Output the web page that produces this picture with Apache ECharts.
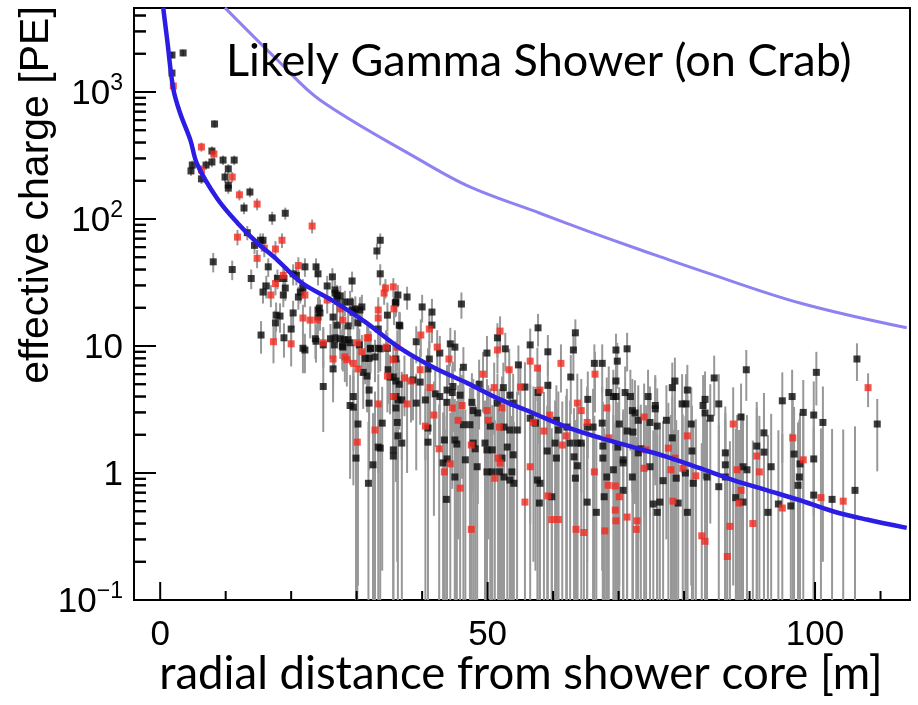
<!DOCTYPE html>
<html>
<head>
<meta charset="utf-8">
<title>Likely Gamma Shower (on Crab)</title>
<script src="https://cdn.jsdelivr.net/npm/echarts@6/dist/echarts.min.js"></script>
<style>
  html, body { margin: 0; padding: 0; background: #ffffff; }
  #chart { width: 918px; height: 705px; }
</style>
</head>
<body>
<div id="chart"></div>
<script>
// Axis ranges (radial distance in m, effective charge in PE)
const xRange = [-4, 114.5];
const yRange = [0.1, 4585];

// Tick positions
const xMajorTicks = [0, 50, 100];
const xMinorTicks = [10, 20, 30, 40, 60, 70, 80, 90, 110];
const yDecadeTicks = [0.1, 1, 10, 100, 1000];
const yMinorTicks = [0.2, 0.3, 0.4, 0.5, 0.6, 0.7, 0.8, 0.9,
  2, 3, 4, 5, 6, 7, 8, 9, 20, 30, 40, 50, 60, 70, 80, 90,
  200, 300, 400, 500, 600, 700, 800, 900, 2000, 3000, 4000];

// Tank hits: [distance, effective charge, charge error]
const blackHits = [
  [3.5,2030,120],[1.8,1955,110],[1.8,1410,90],[8.3,560,40],[7.9,343,30],[9.6,291,25],[11.3,291,25],
  [7.9,281,25],[7.0,266,22],[4.9,266,22],[4.7,239,20],[10.4,248,22],[9.9,214,20],[6.3,207,18],
  [10.4,185,18],[10.4,175,17],[13.7,163,15],[12.8,122,13],[17.1,102,12],[19.1,111,12],[13.3,78,10],
  [15.3,68,9],[15.7,68,9],[14.4,62,9],[33.6,68,9],[33.1,56,8],[8.1,46,8],[11.0,40,7],[16.5,42,7],
  [22.1,42,7],[23.8,42,7],[33.6,37,7],[13.9,34,6],[17.9,34,6],[18.9,34,6],[20.3,37,7],[20.8,36,6],
  [24.1,37,7],[26.3,35,6],[29.3,32.5,6],[25.5,29.7,6],[19.1,28.6,6],[16.2,29.7,6],[15.7,26.6,5],
  [18.8,25.2,5],[21.1,24.3,5],[21.8,28.6,5],[26.7,26.1,5],[27.5,24.8,5],[27.0,23.4,5],[28.2,22.2,5],
  [29.0,22.2,5],[36.3,25.2,5],[37.7,24.3,5],[36.0,22.2,5],[30.8,20.3,5],[40.0,20.3,5],[29.3,19.2,5],
  [24.3,19.9,5],[24.4,18.2,5],[17.7,17.5,4.5],[20.3,18.2,4.5],[24.1,16.9,4.5],[26.4,16.9,4.5],
  [18.3,17.2,4.5],[34.7,17.5,4.5],[33.3,13.6,4],[30.2,15.2,4],[28.7,14.4,4],[27.0,14.6,4],[17.6,15.2,4],
  [20.0,13.6,4],[36.5,14.6,4],[39.1,10.8,3.5],[15.4,12.2,3.5],[18.9,11.6,3.5],[21.8,9.6,3.5],
  [23.7,11.4,3.5],[24.9,10.2,3.5],[26.0,11.4,3.5],[26.6,10.2,3.5],[27.5,11.4,3.5],[27.9,9.8,3.5],
  [29.0,10.6,3.5],[32.1,9.6,3.5],[33.3,9.6,3.5],
  [45.0,9.8,3.5],[44.3,10.4,3.5],[42.7,8.8,3.2],[40.9,6.6,3],[41.1,7.9,3],[51.5,11.6,3.5],[57.7,13.9,4],
  [56.5,10.2,3.5],[59.2,9.0,3.2],[63.4,12.7,3.5],[63.1,9.3,3.2],[66.3,7.3,3],[62.7,5.7,2.8],[49.9,8.8,3.2],
  [52.7,9.5,3.2],[54.7,7.1,3],[46.3,6.8,3],[48.7,5.0,2.8],[52.4,4.7,2.7],[53.4,4.1,2.6],[55.7,4.75,2.7],
  [57.7,4.3,2.6],[59.2,4.9,2.7],[53.9,3.55,2.5],[45.8,4.1,2.6],[47.6,3.6,2.5],[47.8,3.1,2.4],
  [48.5,2.97,2.4],[51.5,3.55,2.5],[47.3,2.4,2.3],[46.3,2.4,2.3],[50.4,2.34,2.3],[53.4,2.18,2.2],
  [52.5,2.3,2.3],[54.5,2.18,2.2],[56.5,2.7,2.3],[57.3,2.47,2.3],[60.5,2.6,2.3],[60.8,2.18,2.2],
  [62.1,2.3,2.3],[65.2,2.3,2.3],[66.1,2.3,2.3],[65.3,3.8,2.5],[62.6,1.72,2.0],[63.7,1.72,2.0],
  [64.3,1.72,2.0],[60.3,1.72,2.0],[59.1,1.49,1.9],[60.5,1.31,1.9],[63.2,1.34,1.9],[63.7,1.14,1.8],
  [57.6,0.88,1.7],[58.0,0.83,1.7],[63.4,0.91,1.7],[59.8,0.65,1.6],[57.9,0.58,1.6],[65.2,0.59,1.6],
  [66.6,0.49,1.5],[49.6,1.72,2.0],[47.8,1.72,2.0],[48.1,1.55,1.9],[49.9,1.52,1.9],[50.7,1.52,1.9],
  [53.0,1.60,2.0],[53.9,1.39,1.9],[52.2,1.31,1.9],[48.4,1.12,1.8],[49.9,1.02,1.8],[50.7,1.02,1.8],
  [51.8,1.02,1.8],[52.5,0.93,1.7],[53.4,0.88,1.7],[54.0,0.83,1.7],[53.7,1.02,1.8],[45.3,1.69,2.0],
  [43.8,1.29,1.9],[43.2,1.2,1.8],[45.0,0.93,1.7],[43.7,0.62,1.6],[46.6,1.27,1.9],[43.4,1.82,2.0],
  [45.0,1.82,2.0],[40.9,2.26,2.2],[40.9,1.75,2.0],[39.1,3.55,2.5],[40.5,3.76,2.5],[42.0,4.2,2.6],
  [43.8,4.5,2.6],[44.6,4.3,2.6],[44.7,4.8,2.7],[36.3,3.76,2.5],[36.9,3.76,2.5],[36.0,4.0,2.5],
  [35.1,5.7,2.8],[35.6,5.7,2.8],[36.0,5.3,2.8],[36.5,5.0,2.8],[34.8,6.5,3],[33.6,9.5,3.2],[34.7,9.6,3.2],
  [36.0,7.9,3],[31.9,8.0,3],[32.8,8.2,3],[31.6,5.8,2.8],[33.9,2.47,2.3],[33.3,1.6,2.0],[33.6,1.57,2.0],
  [32.5,1.16,1.8],[35.6,1.52,1.9],[36.2,2.5,2.3],[36.3,1.96,2.1],[36.9,1.72,2.0],[35.6,1.36,1.9],
  [31.8,0.83,1.7],[29.9,1.31,1.9],[30.2,2.43,2.3],[29.5,4.0,2.5],[29.5,3.3,2.5],[29.0,3.4,2.5],
  [31.9,4.5,2.6],[31.9,3.55,2.5],[31.0,6.2,3],[26.4,6.6,3],[27.8,10.0,3.5],[31.3,8.0,3],[32.1,9.5,3.2],
  [30.4,10.2,3.5],[28.7,11.2,3.5],[28.1,11.2,3.5],[26.7,11.6,3.5],[23.8,10.9,3.5],[22.1,9.3,3.2],
  [24.9,4.8,2.7],[24.1,19.2,5],[29.5,18.5,5],[38.6,5.4,2.8],[39.7,5.2,2.8],[42.7,4.0,2.5],[43.8,3.6,2.5],
  [36.0,3.25,2.4],[46.0,21.4,5],[41.5,18.5,5],[35.9,21.8,5],[36.6,14.4,4],[41.5,14.6,4],[29.8,19.6,5],
  [30.5,19.2,5],[27.0,25.2,5],[26.7,27.6,5],[21.4,26.6,5],
  [71.3,9.5,3.2],[69.6,9.3,3.2],[69.8,7.6,3],[67.5,7.3,3],[69.6,5.3,2.8],[68.5,4.3,2.6],[69.2,4.0,2.5],
  [69.6,4.0,2.5],[71.0,4.3,2.6],[71.8,4.0,2.5],[72.1,3.1,2.4],[72.5,2.97,2.4],[73.0,2.6,2.3],
  [74.5,4.0,2.5],[74.8,2.5,2.3],[75.9,2.34,2.3],[75.6,3.4,2.5],[75.6,3.2,2.4],[77.3,2.6,2.3],
  [78.2,4.7,2.7],[78.6,5.3,2.8],[79.7,3.5,2.5],[80.3,3.5,2.5],[80.5,4.5,2.6],[81.1,2.43,2.3],
  [67.5,2.47,2.3],[70.1,2.43,2.3],[72.2,2.1,2.2],[71.3,2.14,2.2],[69.9,1.6,2.0],[67.6,1.63,2.0],
  [67.6,1.31,1.9],[70.7,1.27,1.9],[70.7,1.2,1.8],[73.0,1.44,1.9],[73.4,1.55,1.9],[74.8,1.12,1.8],
  [78.2,1.89,2.1],[78.8,0.91,1.7],[81.2,1.49,1.9],[80.2,1.0,1.8],[81.4,0.83,1.7],[69.2,1.06,1.8],
  [68.2,0.93,1.7],[70.7,0.73,1.6],[67.8,0.65,1.6],[72.1,0.93,1.7],[76.8,0.87,1.7],[75.3,0.57,1.6],
  [75.9,0.49,1.5],[76.3,0.59,1.6],[79.1,0.58,1.6],[80.5,0.49,1.5],[82.9,3.4,2.5],[83.2,2.97,2.4],
  [84.0,2.7,2.3],[84.6,5.6,2.8],[85.3,3.5,2.5],[83.2,3.8,2.5],[83.5,0.93,1.7],[85.3,0.78,1.6],
  [86.3,1.44,1.9],[86.3,1.16,1.8],[89.0,1.12,1.8],[89.6,1.06,1.8],[89.0,0.59,1.6],[86.3,0.93,1.7],
  [87.9,0.64,1.6],[88.7,2.76,2.3],[89.5,6.5,2.8],[92.2,2.07,2.2],[92.2,1.46,1.9],[91.1,1.63,2.0],
  [93.3,1.12,1.8],[92.8,0.49,1.5],[94.4,0.57,1.6],[96.3,0.55,1.5],[95.0,3.7,2.5],[96.5,4.0,2.5],
  [96.8,1.41,1.9],[97.7,1.18,1.8],[97.6,0.93,1.7],[97.4,0.80,1.7],[98.2,3.0,2.4],[100.2,6.2,2.8],
  [99.8,2.86,2.4],[101.2,2.5,2.3],[99.8,1.29,1.9],[99.8,0.67,1.6],[102.6,0.62,1.6],[106.1,0.73,1.6],
  [106.4,7.9,2.6],[109.5,2.43,1.4]
];

const redHits = [
  [2.0,1115,80],[6.3,369,30],[8.2,325,28],[6.3,243,22],[11.0,214,20],[12.1,155,15],[14.8,131,14],
  [23.2,88,11],[11.8,72,10],[15.9,59,9],[17.6,58,9],[18.6,68,9],[14.8,49,8],[21.1,43,7],[18.8,36,7],
  [17.6,31,6],[16.9,25.2,5],[22.1,25.2,5],[25.5,23.0,5],[34.2,26.1,5],[34.4,28.6,5],[35.6,29.2,5],
  [33.3,19.2,5],[35.7,19.6,5],[21.8,16.6,4.5],[22.9,16.0,4.5],[24.0,16.0,4.5],[33.3,16.6,4.5],
  [27.9,16.0,4.5],[41.1,13.6,4],[39.8,12.2,4],[17.3,10.8,3.5],[20.0,10.4,3.5],[24.9,10.6,3.5],
  [31.6,11.6,3.5],[30.1,10.6,3.5],[34.5,9.8,3.5],[36.2,9.8,3.5],
  [42.3,9.8,3.5],[44.1,7.9,3],[39.7,6.5,3],[51.9,13.1,4],[56.5,7.6,3],[57.6,6.7,3],[61.2,7.3,3],
  [66.4,6.0,3],[51.5,9.3,3.2],[53.3,6.5,3],[49.3,6.0,3],[51.0,4.7,2.7],[55.0,4.75,2.7],[58.0,4.5,2.6],
  [52.2,3.25,2.5],[44.6,3.25,2.5],[46.1,3.4,2.5],[49.9,3.1,2.4],[45.5,2.6,2.3],[50.1,2.6,2.3],
  [51.8,2.3,2.3],[57.0,2.5,2.3],[58.6,2.14,2.2],[59.5,2.86,2.4],[65.2,2.5,2.3],[63.7,3.55,2.5],
  [64.3,3.1,2.4],[62.0,1.96,2.1],[61.4,1.66,2.0],[56.5,1.12,1.8],[66.3,1.02,1.8],[59.2,0.66,1.6],
  [55.7,0.59,1.6],[59.8,0.43,1.5],[60.8,0.43,1.5],[63.5,0.36,1.4],[64.7,0.34,1.4],[47.5,1.66,2.0],
  [51.1,0.91,1.7],[51.9,1.2,1.8],[51.6,1.31,1.9],[47.5,0.36,1.4],[42.6,1.55,1.9],[44.3,1.18,1.8],
  [43.4,1.02,1.8],[45.8,0.76,1.6],[41.8,2.86,2.4],[40.5,2.34,2.3],[41.2,4.7,2.7],[37.7,3.5,2.5],
  [35.6,4.0,2.5],[34.7,5.8,2.8],[37.3,5.6,2.8],[38.3,5.3,2.8],[35.6,7.8,3],[33.3,3.5,2.5],
  [32.8,2.18,2.2],[30.1,1.75,2.0],[30.2,6.6,3],[29.5,7.3,3],[28.2,8.2,3],[28.5,7.8,3],[26.4,7.9,3],
  [30.8,9.0,3.2],[31.8,11.6,3.5],[27.5,19.6,5],
  [68.2,3.25,2.4],[73.9,2.76,2.3],[80.5,1.96,2.1],[68.5,1.89,2.1],[74.2,1.52,1.9],[73.9,1.09,1.8],
  [77.6,1.57,2.0],[78.6,1.31,1.9],[78.0,1.06,1.8],[81.8,0.95,1.7],[79.8,1.09,1.8],[68.4,0.80,1.7],
  [69.5,0.79,1.7],[70.1,0.65,1.6],[69.5,0.51,1.5],[71.3,0.45,1.5],[72.8,0.42,1.5],[69.6,0.42,1.5],
  [72.7,0.36,1.4],[67.9,0.35,1.4],[78.3,0.60,1.6],[82.7,0.32,1.4],[83.2,0.29,1.4],[88.1,1.06,1.8],
  [88.7,0.73,1.6],[88.4,0.58,1.6],[87.0,0.38,1.4],[86.6,0.22,1.3],[87.5,2.43,2.3],[91.1,1.36,1.9],
  [91.5,1.02,1.8],[90.5,0.40,1.4],[95.0,0.53,1.5],[96.6,1.89,2.1],[98.2,1.27,1.9],[100.9,0.64,1.6],
  [104.3,0.60,1.6],[108.1,4.7,1.4]
];

// Fitted lateral distribution (dark) and reference curve (light)
const fitDistance = [0.46, 1.07, 2.0, 3.05, 4.6, 5.65, 8.7, 11.8, 14.8, 17.9, 21.6, 26.2, 31.3, 36.4,
  41.7, 46.9, 51.9, 56.9, 62.1, 67.2, 72.2, 77.4, 82.4, 87.5, 92.7, 97.7, 102.7, 107.9, 114];
const fitCharge = [4600, 2570, 1060, 680, 420, 270, 145, 93, 65, 47.5, 31.5, 23, 15.5, 9.8,
  6.8, 5.1, 3.8, 2.97, 2.3, 1.89, 1.6, 1.34, 1.09, 0.88, 0.73, 0.61, 0.5, 0.43, 0.37];
const refDistance = [9.9, 17.9, 24.4, 39.7, 47.3, 58.0, 65.2, 72.2, 76.3, 82.4, 97.7, 114];
const refCharge = [4600, 1786, 865, 291, 179, 111, 80.7, 59.9, 50.5, 39.4, 21.8, 13.9];

const tickFont = '"Liberation Sans", Arial, Helvetica, sans-serif';
const textFont = 'Lato, "Open Sans", sans-serif';
const xMid = (xRange[0] + xRange[1]) / 2;

function errorBars(hits) {
  return {
    type: 'custom',
    clip: true,
    z: 2,
    silent: true,
    data: hits.map(h => [h[0], h[1], Math.max(h[1] - h[2], yRange[0]), h[1] + h[2]]),
    encode: { x: 0, y: 1 },
    renderItem(params, api) {
      const lo = api.coord([api.value(0), api.value(2)]);
      const hi = api.coord([api.value(0), api.value(3)]);
      return {
        type: 'line',
        shape: { x1: lo[0], y1: lo[1], x2: hi[0], y2: hi[1] },
        style: { stroke: '#989898', lineWidth: 2 }
      };
    }
  };
}

// Inward tick marks on the charge axis: rows placed through the log scale, starting at the plot's left edge
function chargeTicks(values, length) {
  return {
    type: 'custom',
    clip: false,
    z: 100,
    data: values.map(v => [xMid, v]),
    encode: { x: 0, y: 1 },
    renderItem(params, api) {
      const p = api.coord([api.value(0), api.value(1)]);
      const left = params.coordSys.x;
      return {
        type: 'line',
        shape: { x1: left, y1: p[1], x2: left + length, y2: p[1] },
        style: { stroke: '#000000', lineWidth: 2 }
      };
    }
  };
}

// Inward tick marks on the distance axis, rising from the plot's bottom edge
function distanceTicks(values, length) {
  return {
    type: 'custom',
    clip: false,
    z: 100,
    data: values.map(v => [v, yRange[0]]),
    encode: { x: 0, y: 1 },
    renderItem(params, api) {
      const p = api.coord([api.value(0), api.value(1)]);
      const bottom = params.coordSys.y + params.coordSys.height;
      return {
        type: 'line',
        shape: { x1: p[0], y1: bottom, x2: p[0], y2: bottom - length },
        style: { stroke: '#000000', lineWidth: 2 }
      };
    }
  };
}

function decadeLabel(v) {
  const e = Math.round(Math.log10(v));
  if (e === 0) return '{b|1}';
  if (e === 1) return '{b|10}';
  return '{b|10}{s|' + (e < 0 ? '\u2212' + (-e) : e) + '}';
}

const axisLineStyle = { color: '#000', width: 2 };

const axisTitles = [
  {
    id: 'yTitle', type: 'text', x: 37, y: 195, rotation: Math.PI / 2,
    style: { text: 'effective charge [PE]', font: '41px ' + tickFont, fill: '#000',
      textAlign: 'center', textVerticalAlign: 'middle' }
  },
  {
    id: 'xTitle', type: 'text', x: 521, y: 674,
    style: { text: 'radial distance from shower core [m]', font: '45.5px ' + textFont, fill: '#000',
      textAlign: 'center', textVerticalAlign: 'middle' }
  }
];

const chart = echarts.init(document.getElementById('chart'));
chart.setOption({
  animation: false,
  backgroundColor: '#ffffff',
  title: {
    text: 'Likely Gamma Shower (on Crab)',
    left: 221,
    top: 34,
    textStyle: { fontFamily: textFont, fontSize: 45, fontWeight: 'normal', color: '#000' }
  },
  grid: {
    left: 134, right: 8, top: 8, bottom: 105,
    show: true, borderColor: '#000', borderWidth: 2, backgroundColor: 'transparent'
  },
  xAxis: {
    type: 'value', min: xRange[0], max: xRange[1], position: 'bottom',
    axisLine: { show: true, onZero: false, lineStyle: axisLineStyle },
    axisTick: { show: false },
    axisLabel: { show: true, customValues: xMajorTicks, margin: 18,
      fontFamily: tickFont, fontSize: 35, color: '#000' },
    splitLine: { show: false }
  },
  yAxis: {
    type: 'log', min: yRange[0], max: yRange[1], position: 'left',
    axisLine: { show: true, onZero: false, lineStyle: axisLineStyle },
    axisTick: { show: false },
    axisLabel: {
      show: true, customValues: yDecadeTicks, margin: 11, formatter: decadeLabel,
      rich: {
        b: { fontFamily: tickFont, fontSize: 35, color: '#000', lineHeight: 40, verticalAlign: 'bottom' },
        s: { fontFamily: tickFont, fontSize: 23, color: '#000', lineHeight: 23, verticalAlign: 'top' }
      }
    },
    splitLine: { show: false }
  },
  series: [
    errorBars(blackHits),
    errorBars(redHits),
    {
      type: 'scatter', symbol: 'rect', symbolSize: 7, z: 3, silent: true,
      itemStyle: { color: '#0b0b0b' },
      data: blackHits.map(h => [h[0], h[1]])
    },
    {
      type: 'scatter', symbol: 'rect', symbolSize: 7, z: 3, silent: true,
      itemStyle: { color: '#f22a1f' },
      data: redHits.map(h => [h[0], h[1]])
    },
    {
      type: 'line', smooth: 0.35, showSymbol: false, z: 5, clip: true, silent: true,
      lineStyle: { color: '#8e81f2', width: 3 },
      data: refDistance.map((d, i) => [d, refCharge[i]])
    },
    {
      type: 'line', smooth: 0.35, showSymbol: false, z: 6, clip: true, silent: true,
      lineStyle: { color: '#2b1de4', width: 4.5 },
      data: fitDistance.map((d, i) => [d, fitCharge[i]])
    },
    chargeTicks(yDecadeTicks, 22),
    chargeTicks(yMinorTicks, 12),
    distanceTicks(xMajorTicks, 18),
    distanceTicks(xMinorTicks, 9)
  ]
});

// Charge-axis ticks as overlay lines, positioned with the chart's own data-to-pixel conversion
const leftEdge = chart.convertToPixel({ xAxisIndex: 0 }, xRange[0]);
const tickOverlay = [];
yDecadeTicks.forEach((v, i) => {
  const py = chart.convertToPixel({ yAxisIndex: 0 }, v);
  tickOverlay.push({ id: 'yMajor' + i, type: 'line', z: 200,
    shape: { x1: leftEdge, y1: py, x2: leftEdge + 22, y2: py },
    style: { stroke: '#000', lineWidth: 2 } });
});
yMinorTicks.forEach((v, i) => {
  const py = chart.convertToPixel({ yAxisIndex: 0 }, v);
  tickOverlay.push({ id: 'yMinor' + i, type: 'line', z: 200,
    shape: { x1: leftEdge, y1: py, x2: leftEdge + 12, y2: py },
    style: { stroke: '#000', lineWidth: 2 } });
});
chart.setOption({ graphic: { elements: axisTitles.concat(tickOverlay) } });
</script>
</body>
</html>
